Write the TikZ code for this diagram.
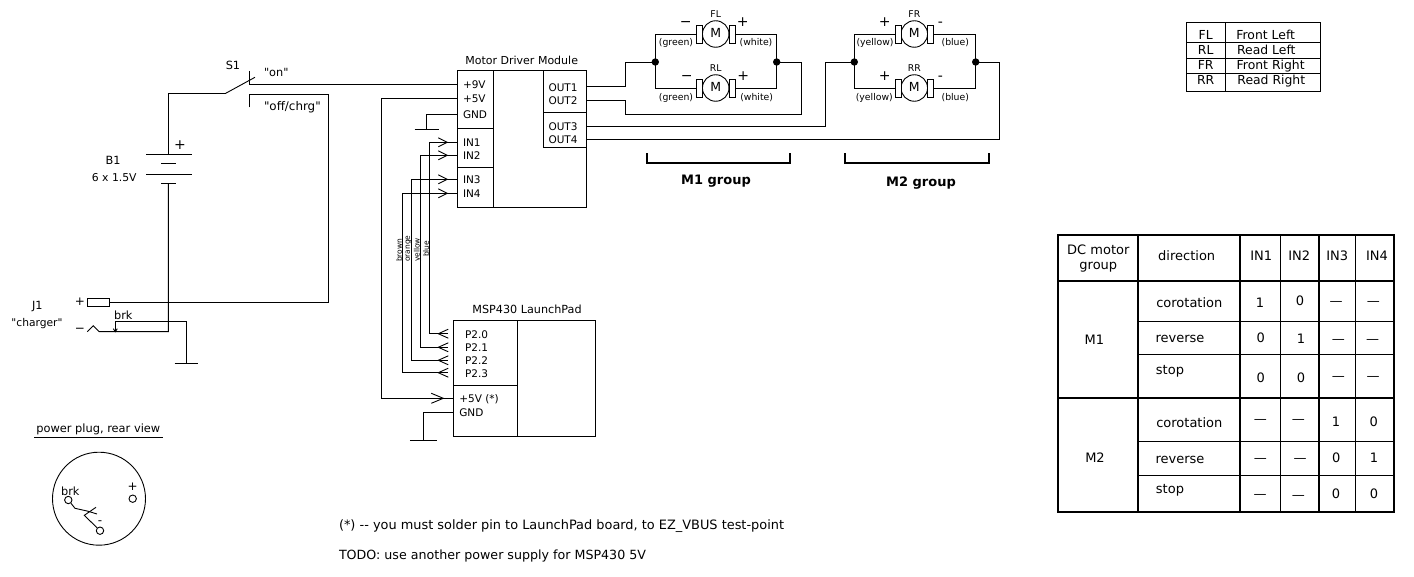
\documentclass[tikz,border=0pt]{standalone}
\usepackage{fontspec}
\setmainfont{DejaVu Sans}[Ligatures=TeXOff]
\usetikzlibrary{calc}
\tikzset{
  lbl/.style={inner sep=0pt, outer sep=0pt, text height=.9em, text depth=0pt, font=\fontsize{10.5}{12}\selectfont},
  tiny/.style={lbl, font=\fontsize{9.3}{11}\selectfont},
  wee/.style={lbl, font=\fontsize{7.5}{9}\selectfont, rotate=90, anchor=west, text height=.73em},
  mid/.style={lbl, font=\fontsize{11.3}{13}\selectfont},
  cell/.style={lbl, font=\fontsize{13}{15}\selectfont},
  sign/.style={lbl, font=\fontsize{14}{16}\selectfont, text height=.73em},
  head/.style={lbl, font=\fontsize{13}{15}\selectfont\bfseries},
  note/.style={lbl, anchor=west},
  box/.style={draw, inner sep=0pt, outer sep=0pt, anchor=north west},
  thick line/.style={line width=2pt},
}
% one motor: centre, name, signs and sign offsets
\newcommand{\motor}[7]{
  \node[draw, fill=white, circle, minimum size=26.5pt, lbl, text height=.73em, font=\fontsize{12.5}{14}\selectfont] (#1) at (#2) {M};
  \node[box, fill=white, minimum width=6pt, minimum height=18pt, anchor=east] (#1l) at ($(#1.west)$) {};
  \node[box, fill=white, minimum width=6pt, minimum height=18pt, anchor=west] (#1r) at ($(#1.east)$) {};
  \node[tiny] (#1name) at ($(#1)+(0,-21)$) {#3};
  \node[sign] (#1a) at ($(#1)+(#6,-11)$) {#4};
  \node[sign] (#1b) at ($(#1)+(#7,-11)$) {#5};
}
\newcommand{\pinin}[1]{\draw (#1) ++(-9,-4.5) -- (#1) -- ++(-9,4.5);}
\newcommand{\pinout}[1]{\draw (#1) ++(10,-4.5) -- (#1) -- ++(10,4.5);}
\newcommand{\earth}[2]{\draw (#1) ++(-#2,0) -- ++(2*#2,0);}
\begin{document}
\begin{tikzpicture}[x=1pt,y=-1pt,line width=.9pt]
  \useasboundingbox (0,0) rectangle (1414,577);

  % motor driver
  \node[box, minimum width=129.4pt, minimum height=137pt] (driver) at (457.3,70.3) {};
  \node[box, minimum width=36pt, minimum height=137pt] (driverleft) at (457.3,70.3) {};
  \node[box, minimum width=43.4pt, minimum height=77pt] (driverout) at (543.3,70.3) {};
  \draw (driverleft.west |- 0,128.7) coordinate (ctla) -- (driverleft.east |- ctla);
  \draw (driverleft.west |- 0,167.3) coordinate (ctlb) -- (driverleft.east |- ctlb);
  \draw (driverout.west |- 0,112.3) coordinate (outdiv) -- (driverout.east |- outdiv);
  \node[lbl, font=\fontsize{11}{13}\selectfont] (drivername) at (521.7,60) {Motor Driver Module};
  \node[lbl, anchor=west] (v9) at (463,84.3) {+9V};
  \node[lbl, anchor=west] (v5) at (463,98.3) {+5V};
  \node[lbl, anchor=west] (gnda) at (463,114.3) {GND};
  \node[lbl, anchor=west] (in1) at (463,142.3) {IN1};
  \node[lbl, anchor=west] (in2) at (463,155.3) {IN2};
  \node[lbl, anchor=west] (in3) at (463,179.3) {IN3};
  \node[lbl, anchor=west] (in4) at (463,193.3) {IN4};
  \node[lbl, anchor=west] (out1) at (548.5,86.7) {OUT1};
  \node[lbl, anchor=west] (out2) at (548.5,100) {OUT2};
  \node[lbl, anchor=west] (out3) at (548.5,126) {OUT3};
  \node[lbl, anchor=west] (out4) at (548.5,139.5) {OUT4};

  % launchpad
  \node[box, minimum width=142pt, minimum height=116pt] (launch) at (453.3,320.3) {};
  \node[box, minimum width=64pt, minimum height=116pt] (launchleft) at (453.3,320.3) {};
  \draw (launchleft.west |- 0,385.3) coordinate (lpdiv) -- (launchleft.east |- lpdiv);
  \node[lbl, font=\fontsize{11.2}{13}\selectfont] (launchname) at (527,309) {MSP430 LaunchPad};
  \node[lbl, anchor=west] (p0) at (465,333.7) {P2.0};
  \node[lbl, anchor=west] (p1) at (465,347.3) {P2.1};
  \node[lbl, anchor=west] (p2) at (465,360.3) {P2.2};
  \node[lbl, anchor=west] (p3) at (465,372.7) {P2.3};
  \node[lbl, anchor=west] (lp5) at (459.3,398.3) {+5V (*)};
  \node[lbl, anchor=west] (gndb) at (459.3,412.3) {GND};

  % control wires
  \foreach \a/\b/\x/\tip in {in1/p0/429.3/a,in2/p1/420.3/b,in3/p2/411.3/c,in4/p3/402.3/d}{
    \draw (driver.west |- \a.west) -- (\x,0 |- \a.west) -- (\x,0 |- \b.west) -- (438.3,0 |- \b.west) coordinate (back\tip);
    \draw (back\tip) -- ++(10,0);
    \pinout{back\tip}
    \path (447.3,0 |- \a.west) coordinate (front\tip);
    \pinin{front\tip}
  }
  \node[wee] (brown) at (398.3,262) {brown};
  \node[wee] (orange) at (406.3,262) {orange};
  \node[wee] (yellow) at (416,262) {yellow};
  \node[wee] (blue) at (425.3,257) {blue};

  % supply wires
  \draw (driver.west |- v5.west) -| (381.7,398.3) coordinate (feed) -- (launch.west |- feed);
  \coordinate (tipfive) at (443.3,398.3);
  \draw (tipfive) ++(-12,-5) -- (tipfive) -- ++(-12,5);
  \draw (driver.west |- gnda.west) -| (426.7,129.3) coordinate (eartha);
  \earth{eartha}{12}
  \draw (launch.west |- gndb.west) -| (423.3,440.3) coordinate (earthb);
  \earth{earthb}{13.5}

  % motors
  \motor{fl}{715.7,34}{FL}{−}{+}{-30}{27}
  \motor{rl}{715.7,88}{RL}{−}{+}{-29}{27.5}
  \motor{fr}{914.3,34}{FR}{+}{-}{-29.5}{26}
  \motor{rr}{914.3,88}{RR}{+}{-}{-29.5}{26}
  \node[tiny] (flc) at (676,41.5) {(green)};
  \node[tiny] (flw) at (756,41.5) {(white)};
  \node[tiny] (rlc) at (676,96) {(green)};
  \node[tiny] (rlw) at (756.7,96.5) {(white)};
  \node[tiny] (frc) at (875,40.7) {(yellow)};
  \node[tiny] (frw) at (955.3,41.3) {(blue)};
  \node[tiny] (rrc) at (874.3,95.7) {(yellow)};
  \node[tiny] (rrw) at (955.3,95.7) {(blue)};
  \coordinate (jl) at (655.3,62);
  \coordinate (jm) at (776.7,62);
  \coordinate (jn) at (854.3,62);
  \coordinate (jp) at (975.7,62);
  \draw (fll) -| (jl) |- (rll);
  \draw (flr) -| (jm) |- (rlr);
  \draw (frl) -| (jn) |- (rrl);
  \draw (frr) -| (jp) |- (rrr);
  \foreach \j in {jl,jm,jn,jp} \fill (\j) circle (3.7pt);
  \draw (out1.west -| driver.east) -- (625.3,0 |- out1.west) |- (jl);
  \draw (out2.west -| driver.east) -- (625.3,0 |- out2.west) |- (801.7,114.3) |- (jm);
  \draw (out3.west -| driver.east) -- (825.3,0 |- out3.west) |- (jn);
  \draw (out4.west -| driver.east) -- (999.3,0 |- out4.west) |- (jp);

  % group brackets
  \draw[thick line] (646.7,153.3) |- (790.3,163) -- (790.3,153.3);
  \draw[thick line] (845,153.3) |- (988.7,163) -- (988.7,153.3);
  \node[head] (mone) at (716,180) {M1 group};
  \node[head] (mtwo) at (921,182) {M2 group};

  % switch and battery
  \coordinate (swon) at (249.3,84.3);
  \coordinate (swoff) at (249.3,94.3);
  \coordinate (swpole) at (225.7,93.3);
  \coordinate (plus) at (168.3,154.3);
  \coordinate (minus) at (168.3,183.3);
  \node[mid] (sone) at (233,65) {S1};
  \node[mid, anchor=west] (onlbl) at (264,71.7) {"on"};
  \node[mid, anchor=west, font=\fontsize{11.9}{14}\selectfont] (offlbl) at (264,106) {"off/chrg"};
  \draw (swon) ++(0,-13.3) -- (swon) -- (driver.west |- v9.west);
  \draw (swon |- swoff) ++(0,13) -- (swoff) -- (329,94.3) coordinate (offend);
  \draw (swpole) -- (255,77.3);
  \draw (swpole) -| (plus);
  \draw (146,154.3) -- (191.7,154.3);
  \draw (161,163.3) -- (176,163.3);
  \draw (146,174.3) -- (191.7,174.3);
  \draw (161,183.3) -- (176,183.3);
  \node[sign] (bplus) at (180,145.7) {+};
  \node[mid] (bone) at (113,160) {B1};
  \node[mid, font=\fontsize{10.8}{13}\selectfont] (bvolt) at (114.3,177) {6 x 1.5V};

  % charger jack
  \node[box, minimum width=21.6pt, minimum height=8pt, anchor=west] (jackplus) at (87.7,302.3) {};
  \node[mid] (jone) at (37.3,305) {J1};
  \node[mid, font=\fontsize{10.7}{13}\selectfont] (jname) at (37,322) {"charger"};
  \node[lbl, text height=.73em, font=\fontsize{12}{14}\selectfont] (jp1) at (80,302) {+};
  \node[lbl, text height=.73em, font=\fontsize{12}{14}\selectfont] (jm1) at (80,328.7) {−};
  \node[mid] (brk) at (123.3,315.3) {brk};
  \draw (jackplus.east) -| (offend -| 328.3,0);
  \coordinate (jacktip) at (99.3,331.7);
  \draw (87.3,331.7) -- (93.3,325.7) -- (jacktip) -| (minus);
  \coordinate (brkend) at (115.3,331.7);
  \coordinate (eartho) at (186.3,363.3);
  \draw (brkend) |- (eartho |- 0,321.3) -- (eartho);
  \earth{eartho}{11.7}
  \draw (113.3,328.7) -- (brkend) -- (117.3,328.7);

  % plug, rear view
  \node[lbl, font=\fontsize{11.4}{13}\selectfont] (plugname) at (98.3,428.3) {power plug, rear view};
  \draw (34.3,437.3) -- (162.7,437.3);
  \node[draw, circle, minimum size=93pt, inner sep=0pt] (plug) at (99,498.7) {};
  \node[mid] (plugbrk) at (70.3,491) {brk};
  \node[lbl, text height=.73em, font=\fontsize{12}{14}\selectfont] (plugplus) at (132.7,487.3) {+};
  \node[lbl, text height=.73em, font=\fontsize{12}{14}\selectfont] (plugminus) at (100,520.7) {-};
  \node[draw, circle, minimum size=7.4pt, inner sep=0pt] (pinb) at (68.3,500) {};
  \node[draw, circle, minimum size=7.4pt, inner sep=0pt] (pinp) at (132.7,498.7) {};
  \node[draw, circle, minimum size=7.4pt, inner sep=0pt] (pinm) at (100,530.7) {};
  \draw (pinb) -- (75,508.3) -- (88.3,511.3) -- (97,514);
  \draw (96,507.3) -- (84.3,515.3) -- (pinm);

  % notes
  \node[note, font=\fontsize{12.9}{15}\selectfont] (noteone) at (339,525) {(*) -- you must solder pin to LaunchPad board, to EZ\_VBUS test-point};
  \node[note, font=\fontsize{12.65}{15}\selectfont] (notetwo) at (339,555) {TODO: use another power supply for MSP430 5V};

  % legend
  \node[box, minimum width=134pt, minimum height=68.3pt] (legend) at (1186.3,22.7) {};
  \draw (1225.3,22.7) -- (1225.3,91);
  \foreach \y in {42.3,58.3,73.3} \draw (legend.west |- 0,\y) -- (legend.east |- 0,\y);
  \foreach \n/\t/\xa/\ya in {legfl/FL/1205.7/35,legrl/RL/1205.7/50.5,legfr/FR/1205.7/65.5,legrr/RR/1205.7/80.5,
    legfront/Front Left/1265.7/35,legrear/Read Left/1266.3/50.3,legfrontr/Front Right/1270.7/65.5,legrearr/Read Right/1271.3/80.5}
    \node[lbl, font=\fontsize{12.4}{14}\selectfont] (\n) at (\xa,\ya) {\t};

  % truth table
  \node[box, thick line, minimum width=336pt, minimum height=276.7pt] (table) at (1058,235) {};
  \foreach \x in {1138,1240,1318.7} \draw[thick line] (\x,235) -- (\x,511.7);
  \foreach \x in {1280.3,1355.3} \draw (\x,235) -- (\x,511.7);
  \foreach \y in {280.7,397.7} \draw[thick line] (1058,\y) -- (1394,\y);
  \foreach \y in {321.7,354.3,441.3,475} \draw (1138,\y) -- (1394,\y);
  \foreach \n/\t/\xa/\ya in {tdc/DC motor/1098.3/250,tgroup/group/1098.3/265,tdir/direction/1186.7/255.7,
    tone/IN1/1261.3/256,ttwo/IN2/1299.3/256,tthree/IN3/1337.3/256,tfour/IN4/1377/256,
    tma/M1/1094.3/340,tmb/M2/1095/458.3,
    tcoa/corotation/1189.3/302.7,trea/reverse/1180/337.7,tsta/stop/1170/370,
    tcob/corotation/1189.3/422.7,treb/reverse/1180/459,tstb/stop/1170/489,
    ra/1/1260/303,rb/0/1300/300.7,rc/—/1336/301,rd/—/1373.3/301,
    sa/0/1260.7/337.7,sb/1/1301/338.7,sc/—/1338.3/338.7,sd/—/1372.7/338.7,
    ua/0/1260.7/377.7,ub/0/1301/377.7,uc/—/1338.3/376,ud/—/1373/376,
    va/—/1260.3/419.3,vb/—/1298.3/419.3,vc/1/1336/421.7,vd/0/1373.7/422,
    wa/—/1260.3/458,wb/—/1300/458,wc/0/1336.3/458.3,wd/1/1374/458,
    xa/—/1260/494.3,xb/—/1298.3/495,xc/0/1336/493.7,xd/0/1374/494}
    \node[cell] (\n) at (\xa,\ya) {\t};
\end{tikzpicture}
\end{document}
